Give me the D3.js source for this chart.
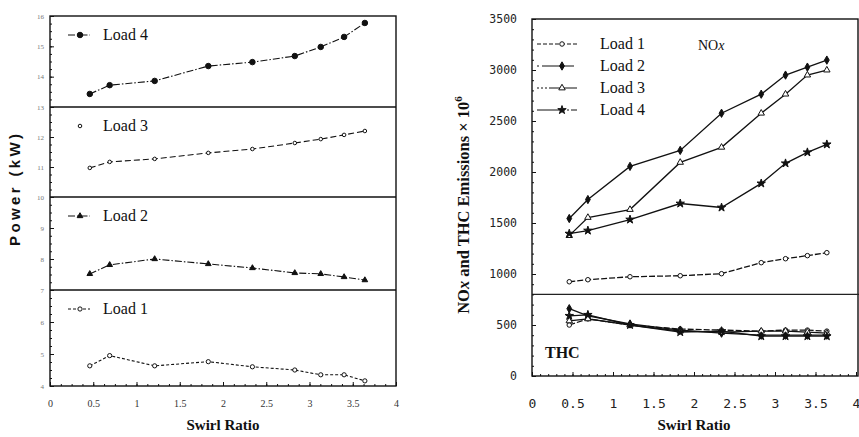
<!DOCTYPE html>
<html><head><meta charset="utf-8">
<script src="https://cdn.jsdelivr.net/npm/d3@7"></script>
<style>body{margin:0;background:#fff}svg{display:block}</style>
</head><body><svg id="c" width="859" height="437"></svg>
<script>
// ---------- data ----------
const swirl = [0.46, 0.69, 1.21, 1.83, 2.34, 2.83, 3.13, 3.40, 3.64];
const loadNames = ["Load 1", "Load 2", "Load 3", "Load 4"];
// Power (kW) per load
const power1 = [4.63, 4.95, 4.63, 4.76, 4.60, 4.50, 4.35, 4.35, 4.16];
const power2 = [7.52, 7.81, 8.00, 7.84, 7.71, 7.55, 7.52, 7.42, 7.32];
const power3 = [10.97, 11.17, 11.27, 11.47, 11.60, 11.80, 11.93, 12.07, 12.20];
const power4 = [13.43, 13.72, 13.86, 14.35, 14.48, 14.68, 14.98, 15.31, 15.77];
// NOx emissions x10^6
const nox1 = [924, 944, 973, 983, 1003, 1111, 1150, 1180, 1209];
const nox2 = [1544, 1730, 2055, 2212, 2576, 2763, 2950, 3028, 3097];
const nox3 = [1376, 1554, 1632, 2094, 2242, 2576, 2763, 2950, 2999];
const nox4 = [1396, 1426, 1534, 1691, 1652, 1888, 2085, 2193, 2271];
// THC emissions x10^6
const thc1 = [500, 560, 500, 460, 450, 440, 450, 450, 440];
const thc2 = [660, 590, 510, 450, 420, 400, 400, 400, 400];
const thc3 = [540, 560, 500, 440, 430, 440, 440, 430, 420];
const thc4 = [590, 600, 500, 430, 440, 390, 390, 390, 390];
// ticks
const xTicks = [0, 0.5, 1, 1.5, 2, 2.5, 3, 3.5, 4];
const xTickLabels = ["0", "0.5", "1", "1.5", "2", "2.5", "3", "3.5", "4"];
const powerTicks = [4, 5, 6, 7, 8, 9, 10, 11, 12, 13, 14, 15, 16];
const powerBreaks = [4, 7, 10, 13, 16];
const emisTicks = [0, 500, 1000, 1500, 2000, 2500, 3000, 3500];
const emisTickLabels = ["0", "500", "1000", "1500", "2000", "2500", "3000", "3500"];
const thcNoxSplit = 800;

// ---------- drawing ----------
const svg = d3.select("#c");
svg.append("rect").attr("width", 859).attr("height", 437).attr("fill", "#fff");

const serif = "'Liberation Serif','DejaVu Serif',serif";
const sans = "'Liberation Sans','DejaVu Sans',sans-serif";
const mono = "'DejaVu Sans Mono','Liberation Mono',monospace";
const ink = "#111";

// ===== LEFT: Power stacked panels =====
const xL = d3.scaleLinear().domain([0, 4]).range([50, 396]);
const yL = d3.scaleLinear().domain(powerBreaks).range([386, 290, 197, 107, 16]);
const L = svg.append("g");

L.append("rect").attr("x", xL(0)).attr("y", yL(16)).attr("width", xL(4) - xL(0))
  .attr("height", yL(4) - yL(16)).attr("fill", "none").attr("stroke", ink).attr("stroke-width", 1.4);
[7, 10, 13].forEach(v => L.append("line").attr("x1", xL(0)).attr("x2", xL(4))
  .attr("y1", yL(v)).attr("y2", yL(v)).attr("stroke", ink).attr("stroke-width", 1.6));

const axLB = d3.axisBottom(xL).tickValues(xTicks).tickSize(-4).tickPadding(14)
  .tickFormat((d, i) => xTickLabels[i]);
const gxL = L.append("g").attr("transform", `translate(0,${yL(4)})`).call(axLB);
gxL.select(".domain").remove();
gxL.selectAll("text").attr("font-family", serif).attr("font-size", 10).attr("fill", "#333");
const gxLm = L.append("g").attr("transform", `translate(0,${yL(4)})`)
  .call(d3.axisBottom(xL).tickValues(d3.range(0, 4.01, 0.125)).tickSize(-2).tickFormat(""));
gxLm.select(".domain").remove();

const gyL = L.append("g").attr("transform", `translate(${xL(0)},0)`)
  .call(d3.axisLeft(yL).tickValues(powerTicks).tickSize(-4).tickPadding(6).tickFormat(d3.format("d")));
gyL.select(".domain").remove();
gyL.selectAll("text").attr("font-family", serif).attr("font-size", 7).attr("fill", "#777");
const gyLm = L.append("g").attr("transform", `translate(${xL(0)},0)`)
  .call(d3.axisLeft(yL).tickValues(d3.range(4, 16.01, 0.25)).tickSize(-2).tickFormat(""));
gyLm.select(".domain").remove();
L.selectAll(".tick line").attr("stroke", ink);

const leftSeries = [
  { name: loadNames[3], vals: power4, dash: "7,2,1.5,2", sym: d3.symbolCircle, size: 24, fill: ink, legLine: true },
  { name: loadNames[2], vals: power3, dash: "6,3", sym: d3.symbolCircle, size: 10, fill: "#fff", legLine: false },
  { name: loadNames[1], vals: power2, dash: "7,2,1.5,2", sym: d3.symbolTriangle, size: 14, fill: ink, legLine: true },
  { name: loadNames[0], vals: power1, dash: "3,2", sym: d3.symbolCircle, size: 14, fill: "#fff", legLine: true }
];
const lineL = d3.line().x((d, i) => xL(swirl[i])).y(d => yL(d));
leftSeries.forEach((s, k) => {
  const topV = [16, 13, 10, 7][k];
  L.append("path").datum(s.vals).attr("d", lineL).attr("fill", "none")
    .attr("stroke", ink).attr("stroke-width", 1.1).attr("stroke-dasharray", s.dash);
  L.selectAll(null).data(s.vals).enter().append("path")
    .attr("transform", (d, i) => `translate(${xL(swirl[i])},${yL(d)})`)
    .attr("d", d3.symbol().type(s.sym).size(s.size))
    .attr("fill", s.fill).attr("stroke", ink).attr("stroke-width", 1);
  const ly = yL(topV) + 19;
  if (s.legLine) L.append("line").attr("x1", 68).attr("x2", 90).attr("y1", ly).attr("y2", ly)
    .attr("stroke", ink).attr("stroke-width", 1).attr("stroke-dasharray", s.dash);
  L.append("path").attr("transform", `translate(80,${ly})`)
    .attr("d", d3.symbol().type(s.sym).size(s.size)).attr("fill", s.fill).attr("stroke", ink);
  L.append("text").attr("x", 103).attr("y", ly + 5).text(s.name)
    .attr("font-family", serif).attr("font-size", 16).attr("fill", ink);
});

L.append("text").attr("transform", `translate(20,190) rotate(-90)`).attr("text-anchor", "middle")
  .attr("font-family", sans).attr("font-weight", "bold").attr("font-size", 15).attr("fill", ink)
  .attr("textLength", 112).attr("lengthAdjust", "spacing")
  .text("Power (kW)");
L.append("text").attr("x", (xL(0) + xL(4)) / 2).attr("y", 430).attr("text-anchor", "middle")
  .attr("font-family", serif).attr("font-weight", "bold").attr("font-size", 15).attr("fill", ink)
  .text("Swirl Ratio");

// ===== RIGHT: NOx & THC =====
const xR = d3.scaleLinear().domain([0, 4]).range([532, 856]);
const yR = d3.scaleLinear().domain([0, 3500]).range([376, 19]);
const R = svg.append("g");

R.append("rect").attr("x", xR(0)).attr("y", yR(3500)).attr("width", 858 - xR(0))
  .attr("height", yR(0) - yR(3500)).attr("fill", "none").attr("stroke", ink).attr("stroke-width", 1.4);
R.append("line").attr("x1", xR(0)).attr("x2", 859).attr("y1", yR(thcNoxSplit)).attr("y2", yR(thcNoxSplit))
  .attr("stroke", "#222").attr("stroke-width", 1.1);

const gxR = R.append("g").attr("transform", `translate(0,${yR(0)})`)
  .call(d3.axisBottom(xR).tickValues(xTicks).tickSize(-4).tickPadding(23).tickFormat((d, i) => xTickLabels[i]));
gxR.select(".domain").remove();
gxR.selectAll("text").attr("font-family", mono).attr("font-size", 13).attr("fill", "#222");
const gxRm = R.append("g").attr("transform", `translate(0,${yR(0)})`)
  .call(d3.axisBottom(xR).tickValues(d3.range(0, 4.01, 0.1)).tickSize(-2).tickFormat(""));
gxRm.select(".domain").remove();

const gyR = R.append("g").attr("transform", `translate(${xR(0)},0)`)
  .call(d3.axisLeft(yR).tickValues(emisTicks).tickSize(-4).tickPadding(15).tickFormat((d, i) => emisTickLabels[i]));
gyR.select(".domain").remove();
gyR.selectAll("text").attr("font-family", mono).attr("font-size", 11.5).attr("fill", "#222");
const gyRm = R.append("g").attr("transform", `translate(${xR(0)},0)`)
  .call(d3.axisLeft(yR).tickValues(d3.range(0, 3501, 100)).tickSize(-2).tickFormat(""));
gyRm.select(".domain").remove();
R.selectAll(".tick line").attr("stroke", ink);

const rightSeries = [
  { name: loadNames[0], nox: nox1, thc: thc1, dash: "6,2", sym: d3.symbolCircle, size: 16, fill: "#fff", leg: "4,2" },
  { name: loadNames[1], nox: nox2, thc: thc2, dash: null, sym: d3.symbolDiamond, size: 20, fill: ink, leg: "2,3,30,0" },
  { name: loadNames[2], nox: nox3, thc: thc3, dash: null, sym: d3.symbolTriangle, size: 18, fill: "#fff", leg: "2,2,2,2,2,2,30,0" },
  { name: loadNames[3], nox: nox4, thc: thc4, dash: null, sym: d3.symbolStar, size: 22, fill: ink, leg: "24,2,2,2,2,2" }
];
const lineR = d3.line().x((d, i) => xR(swirl[i])).y(d => yR(d));
const legY = [44, 66, 88, 110];
rightSeries.forEach((s, k) => {
  [s.nox, s.thc].forEach(vals => {
    R.append("path").datum(vals).attr("d", lineR).attr("fill", "none")
      .attr("stroke", ink).attr("stroke-width", 1.3).attr("stroke-dasharray", s.dash);
    R.selectAll(null).data(vals).enter().append("path")
      .attr("transform", (d, i) => `translate(${xR(swirl[i])},${yR(d)})`)
      .attr("d", d3.symbol().type(s.sym).size(s.size))
      .attr("fill", s.fill).attr("stroke", ink).attr("stroke-width", 1);
  });
  const ly = legY[k];
  R.append("line").attr("x1", 537).attr("x2", 577).attr("y1", ly).attr("y2", ly)
    .attr("stroke", ink).attr("stroke-width", 1).attr("stroke-dasharray", s.leg);
  R.append("path").attr("transform", `translate(562,${ly})`)
    .attr("d", d3.symbol().type(s.sym).size(s.size)).attr("fill", s.fill).attr("stroke", ink);
  R.append("text").attr("x", 600).attr("y", ly + 5).text(s.name)
    .attr("font-family", serif).attr("font-size", 16).attr("fill", ink);
});

const noxT = R.append("text").attr("x", 698).attr("y", 50).attr("font-family", serif)
  .attr("font-size", 14).attr("fill", ink);
noxT.append("tspan").text("NO");
noxT.append("tspan").attr("font-style", "italic").text("x");
R.append("text").attr("x", 545).attr("y", 358).attr("font-family", serif).attr("font-weight", "bold")
  .attr("font-size", 16).attr("fill", ink).text("THC");

const yl = R.append("text").attr("transform", `translate(469,205) rotate(-90)`).attr("text-anchor", "middle")
  .attr("font-family", serif).attr("font-weight", "bold").attr("font-size", 16.5).attr("fill", ink);
yl.append("tspan").text("NO");
yl.append("tspan").attr("font-style", "italic").text("x");
yl.append("tspan").text(" and THC Emissions  \u00d7 10");
yl.append("tspan").attr("font-size", 11).attr("dy", -7).text("6");

R.append("text").attr("x", (xR(0) + xR(4)) / 2).attr("y", 430).attr("text-anchor", "middle")
  .attr("font-family", serif).attr("font-weight", "bold").attr("font-size", 15).attr("fill", ink)
  .text("Swirl Ratio");
</script></body></html>
